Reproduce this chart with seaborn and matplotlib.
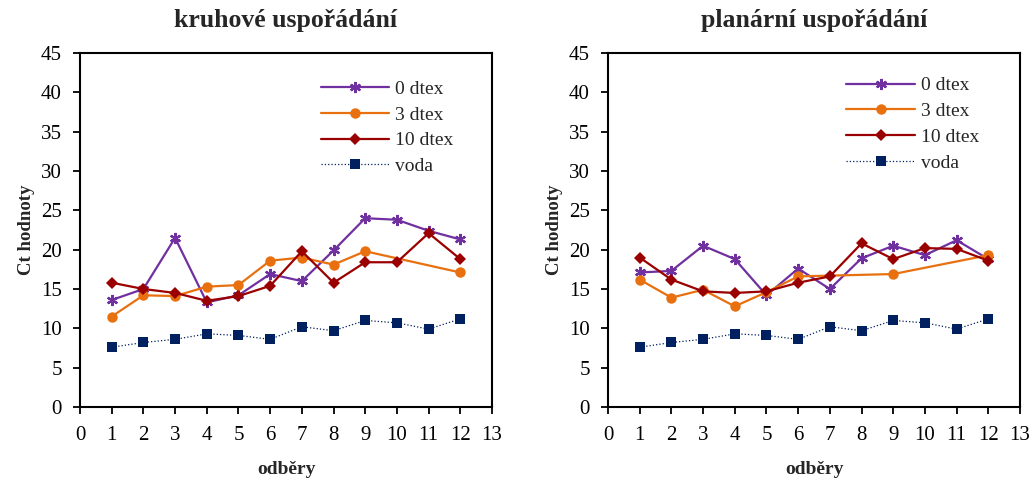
import pandas as pd
import seaborn as sns
import matplotlib.pyplot as plt

# Data
odbery = [1, 2, 3, 4, 5, 6, 7, 8, 9, 10, 11, 12]

kruh_0dtex = [13.6, 15.0, 21.5, 13.3, 14.2, 16.9, 16.0, 19.9, 24.0, 23.8, 22.4, 21.3]
kruh_3dtex_x = [1, 2, 3, 4, 5, 6, 7, 8, 9, 12]
kruh_3dtex = [11.5, 14.2, 14.1, 15.3, 15.5, 18.6, 19.0, 18.1, 19.8, 17.1]
kruh_10dtex = [15.8, 15.0, 14.5, 13.5, 14.1, 15.4, 19.8, 15.8, 18.4, 18.4, 22.1, 18.8]

plan_0dtex = [17.1, 17.3, 20.5, 18.8, 14.2, 17.6, 15.0, 18.9, 20.5, 19.3, 21.2, 18.8]
plan_3dtex_x = [1, 2, 3, 4, 5, 6, 9, 12]
plan_3dtex = [16.2, 13.9, 14.9, 12.8, 14.6, 16.6, 16.9, 19.3]
plan_10dtex = [19.0, 16.2, 14.7, 14.5, 14.7, 15.8, 16.6, 20.8, 18.8, 20.2, 20.1, 18.6]

voda = [7.6, 8.2, 8.6, 9.3, 9.1, 8.6, 10.2, 9.7, 11.0, 10.7, 9.9, 11.2]

titles = ["kruhové uspořádání", "planární uspořádání"]

sns.set_style("ticks")
plt.rcParams['font.family'] = ['Liberation Serif', 'DejaVu Serif']

fig = plt.figure(figsize=(10.34, 4.79), dpi=100)
ax1 = fig.add_axes([80 / 1034, 1 - 407 / 479, 412 / 1034, 354 / 479])
ax2 = fig.add_axes([608 / 1034, 1 - 407 / 479, 412 / 1034, 354 / 479])

# legend anchor (axes fraction) per panel
panels = [
    (ax1, titles[0], kruh_0dtex, kruh_3dtex_x, kruh_3dtex, kruh_10dtex, (0.565, 0.945)),
    (ax2, titles[1], plan_0dtex, plan_3dtex_x, plan_3dtex, plan_10dtex, (0.56, 0.955)),
]

for ax, title, d0, x3, d3, d10, legpos in panels:
    sns.lineplot(x=odbery, y=d0, ax=ax, color='#7030A0', linewidth=1.6,
                 marker=(6, 2, 0), markersize=8, markeredgewidth=1.6,
                 markeredgecolor='#7030A0', label='0 dtex')
    sns.lineplot(x=x3, y=d3, ax=ax, color='#E8700F', linewidth=1.6,
                 marker='o', markersize=7.5, markeredgewidth=0, label='3 dtex')
    sns.lineplot(x=odbery, y=d10, ax=ax, color='#9B0000', linewidth=1.6,
                 marker='D', markersize=6.5, markeredgewidth=0, label='10 dtex')
    sns.lineplot(x=odbery, y=voda, ax=ax, color='#002060', linewidth=0.9,
                 linestyle=':', marker='s', markersize=7, markeredgewidth=0,
                 label='voda')

    ax.set_xlim(0, 13)
    ax.set_ylim(0, 45)
    ax.set_xticks(range(0, 14))
    ax.set_yticks(range(0, 46, 5))
    ax.tick_params(direction='out', length=5, width=1.3, labelsize=15,
                   colors='black')
    ax.tick_params(axis='x', pad=9)
    ax.tick_params(axis='y', pad=8)
    for sp in ax.spines.values():
        sp.set_visible(True)
        sp.set_color('black')
        sp.set_linewidth(1.5)

    ax.set_title(title, fontweight='bold', fontsize=18.5, pad=19)
    ax.set_xlabel('odběry', fontweight='bold', fontsize=14, labelpad=11)
    ax.set_ylabel('Ct hodnoty', fontweight='bold', fontsize=13.5, labelpad=4)

    ax.legend(frameon=False, loc='upper left', bbox_to_anchor=legpos,
              fontsize=14, handlelength=3.5, handletextpad=0.35,
              labelspacing=0.42, borderaxespad=0)

plt.savefig("out.png", dpi=100)
